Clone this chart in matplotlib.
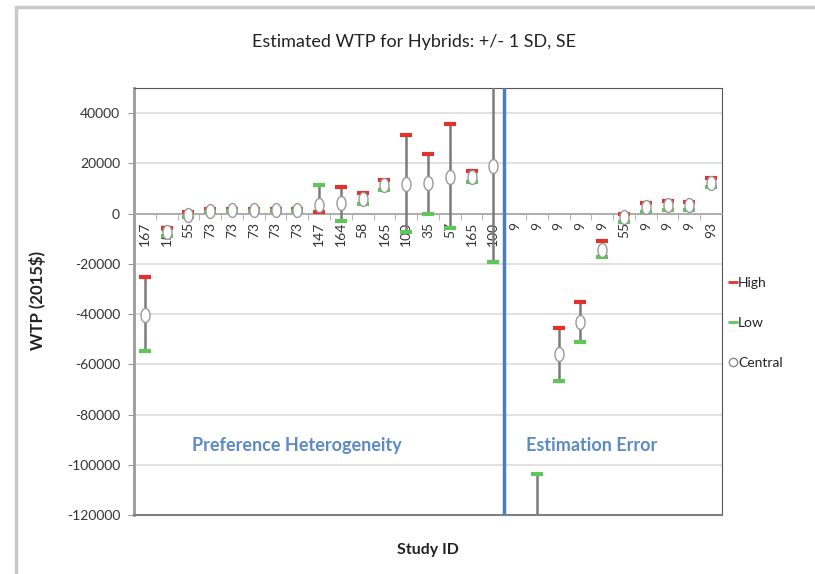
import numpy as np
import matplotlib
matplotlib.use("Agg")
import matplotlib.pyplot as plt
from matplotlib.lines import Line2D
from matplotlib.patches import Rectangle

plt.rcParams['font.family'] = ['Lato', 'DejaVu Sans']
plt.rcParams['axes.unicode_minus'] = False

# study IDs along the category axis
study_ids = ['167', '153', '55', '73', '73', '73', '73', '73', '147', '164',
             '58', '165', '100', '35', '57', '165', '100',
             '9', '9', '9', '9', '9', '55', '9', '9', '9', '93']

# WTP estimates (2015$); nan = not shown
nan = np.nan
high = [-25300, -5800, 800, 2000, 2000, 2000, 2000, 2000, 500, 10500,
        8000, 13500, 31300, 23800, 35600, 16800, 57500,
        nan, -176500, -45500, -35200, -11000, 0, 4400, 5100, 4800, 14000]
central = [-40300, -7500, -500, 1000, 1500, 1500, 1500, 1500, 3300, 4400,
           6000, 11500, 11900, 12200, 14700, 14600, 19000,
           nan, -140000, -55800, -43200, -14300, -1500, 2800, 3600, 3600, 12200]
low = [-54700, -9000, -1500, 500, 1000, 1000, 1000, 1000, 11300, -2800,
       4000, 9500, -7500, -200, -5900, 12400, -19400,
       nan, -103500, -66500, -51100, -17400, -3500, 800, 1600, 1600, 10500]

n_heterogeneity = 17  # first block of studies, rest are estimation error

RED = '#E3312C'
GREEN = '#5FC75A'
GREY = '#7A7A7A'
BLUE = '#4A7EBB'
TEXT_BLUE = '#5B8AC5'

fig = plt.figure(figsize=(8.15, 5.74), dpi=100)
ax = fig.add_axes([134 / 815, 59 / 574, 588 / 815, 427 / 574])

x = np.arange(len(study_ids))
hi = np.array(high, dtype=float)
lo = np.array(low, dtype=float)
mid = np.array(central, dtype=float)

# high-low lines
ax.vlines(x, np.fmin(hi, lo), np.fmax(hi, lo), color=GREY, lw=1.8, zorder=3)

t = np.linspace(0, 2 * np.pi, 60)
oval = list(zip(0.65 * np.cos(t), np.sin(t)))

ax.plot(x, hi, ls='none', marker='_', ms=9, mew=3, color=RED, zorder=4)
ax.plot(x, lo, ls='none', marker='_', ms=9, mew=3, color=GREEN, zorder=4)
ax.plot(x, mid, ls='none', marker=oval, ms=10, mew=1.0,
        mfc='white', mec='#999999', zorder=5)

ax.set_xlim(-0.5, len(study_ids) - 0.5)
ax.set_ylim(-120000, 50000)
ax.set_yticks(np.arange(-120000, 40001, 20000))
ax.yaxis.grid(True, color='#DCDCDC', lw=1.2)
ax.set_axisbelow(True)

# category axis crosses at zero
ax.spines['bottom'].set_position(('data', 0))
ax.spines['bottom'].set_color('#A6A6A6')
ax.spines['bottom'].set_linewidth(1.2)
ax.set_xticks(x)
ax.set_xticklabels(study_ids, rotation=90, fontsize=10, color='#333333')
ax.set_xticks(np.arange(-0.5, len(study_ids)), minor=True)
ax.tick_params(axis='x', which='major', length=0, pad=6)
ax.tick_params(axis='x', which='minor', length=4, color='#A6A6A6', direction='out')
for lbl in ax.get_xticklabels():
    lbl.set_verticalalignment('top')

ax.spines['left'].set_color('#9A9A9A')
ax.spines['left'].set_linewidth(2)
ax.spines['top'].set_color('#555555')
ax.spines['right'].set_color('#555555')
ax.tick_params(axis='y', length=4, color='#9A9A9A', labelsize=10,
               labelcolor='#333333', pad=6)
ax.axhline(-120000, color='#808080', lw=1.5, clip_on=False, zorder=6)

# divider between the two groups
ax.axvline(n_heterogeneity - 0.5, color=BLUE, lw=2.5, zorder=6)

ax.text(7.0, -92500, 'Preference Heterogeneity', color=TEXT_BLUE,
        fontsize=13, fontweight='bold', ha='center', va='center')
ax.text(20.5, -92500, 'Estimation Error', color=TEXT_BLUE,
        fontsize=13, fontweight='bold', ha='center', va='center')

fig.text(414 / 815, 1 - 42 / 574, 'Estimated WTP for Hybrids: +/- 1 SD, SE',
         ha='center', va='center', fontsize=13, color='#222222')
fig.text(37 / 815, 1 - 300 / 574, 'WTP (2015$)', rotation=90, ha='center',
         va='center', fontsize=12, fontweight='bold', color='#222222')
fig.text(428 / 815, 1 - 550 / 574, 'Study ID', ha='center', va='center',
         fontsize=11.5, fontweight='bold', color='#222222')

handles = [
    Line2D([], [], ls='none', marker='_', ms=7, mew=2, color=RED),
    Line2D([], [], ls='none', marker='_', ms=7, mew=2, color=GREEN),
    Line2D([], [], ls='none', marker='o', ms=6, mew=1, mfc='white', mec='#8C8C8C'),
]
fig.legend(handles, ['High', 'Low', 'Central'], loc='center left',
           bbox_to_anchor=(716 / 815, 1 - 323 / 574), frameon=False,
           handlelength=0.6, handletextpad=0.1, labelspacing=2.0,
           fontsize=10, labelcolor='#222222')

# chart-area border
fig.patches.append(Rectangle((16 / 815, -0.1), 1.2, 1.1 - 7 / 574,
                             transform=fig.transFigure, fill=False,
                             edgecolor='#C8C8C8', lw=2.5))

fig.savefig('out.png', dpi=100)
